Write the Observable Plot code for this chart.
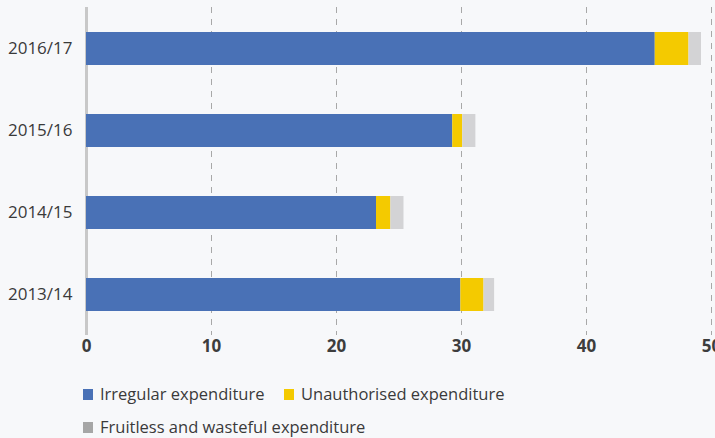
<!DOCTYPE html>
<html>
<head>
<meta charset="utf-8">
<script src="https://cdn.jsdelivr.net/npm/d3@7"></script>
<script src="https://cdn.jsdelivr.net/npm/@observablehq/plot@0.6"></script>
<style>
  html, body { margin: 0; padding: 0; background: #f7f8fa; }
  body { width: 715px; height: 438px; overflow: hidden; font-family: "Open Sans", sans-serif; }
  #chart svg { display: block; background: #f7f8fa; }
  .legend { position: relative; height: 78px; font-family: "Open Sans", sans-serif; color: #3a3a3a; font-size: 16.5px; }
  .item { position: absolute; display: flex; align-items: center; white-space: nowrap; line-height: 20px; }
  .sw { width: 10px; height: 11px; margin-right: 7px; }
</style>
</head>
<body>
<div id="chart"></div>
<div class="legend" id="legend"></div>
<script>
const years = ["2016/17", "2015/16", "2014/15", "2013/14"];
const seriesNames = ["Irregular expenditure", "Unauthorised expenditure", "Fruitless and wasteful expenditure"];
const irregular = [45.5, 29.3, 23.2, 29.95];
const unauthorised = [2.7, 0.8, 1.15, 1.85];
const fruitless = [1.0, 1.05, 1.05, 0.85];
const xTicks = [0, 10, 20, 30, 40, 50];
const barColors = ["#4971b6", "#f4ca00", "#d3d3d5"];
const legendColors = ["#4971b6", "#f4ca00", "#a6a6a6"];

const seriesValues = [irregular, unauthorised, fruitless];
const data = [];
seriesNames.forEach((s, si) => years.forEach((y, yi) => data.push({year: y, type: s, value: seriesValues[si][yi]})));

const chart = Plot.plot({
  width: 715,
  height: 360,
  marginLeft: 86,
  marginRight: 4,
  marginTop: 7,
  marginBottom: 25,
  style: {background: "#f7f8fa", fontFamily: "Open Sans, sans-serif"},
  x: {domain: [0, 50], ticks: xTicks, tickSize: 0, label: null},
  y: {domain: years, paddingInner: 0.6, paddingOuter: 0.3, label: null, tickSize: 0},
  color: {domain: seriesNames, range: barColors},
  marks: [
    Plot.gridX(xTicks.slice(1), {stroke: "#a8a8a8", strokeOpacity: 1, strokeDasharray: "6,6", strokeWidth: 1}),
    Plot.ruleX([0], {stroke: "#c8c8c8", strokeWidth: 3}),
    Plot.barX(data, {x: "value", y: "year", fill: "type", inset: 0}),
    Plot.axisX({ticks: xTicks, tickSize: 0, tickPadding: 4, fontSize: 17, fontWeight: "bold", fill: "#3d3d3d", label: null}),
    Plot.axisY({tickSize: 0, tickPadding: 14, fontSize: 17, fill: "#3a3a3a", label: null})
  ]
});
document.getElementById("chart").appendChild(chart);

const legend = document.getElementById("legend");
const positions = [[83, 34], [284, 34], [83, 67]];
seriesNames.forEach((s, i) => {
  const it = document.createElement("div");
  it.className = "item";
  it.style.left = positions[i][0] + "px";
  it.style.top = (positions[i][1] - 10) + "px";
  const sw = document.createElement("span");
  sw.className = "sw";
  sw.style.background = legendColors[i];
  const tx = document.createElement("span");
  tx.textContent = s;
  it.appendChild(sw); it.appendChild(tx);
  legend.appendChild(it);
});
</script>
</body>
</html>
